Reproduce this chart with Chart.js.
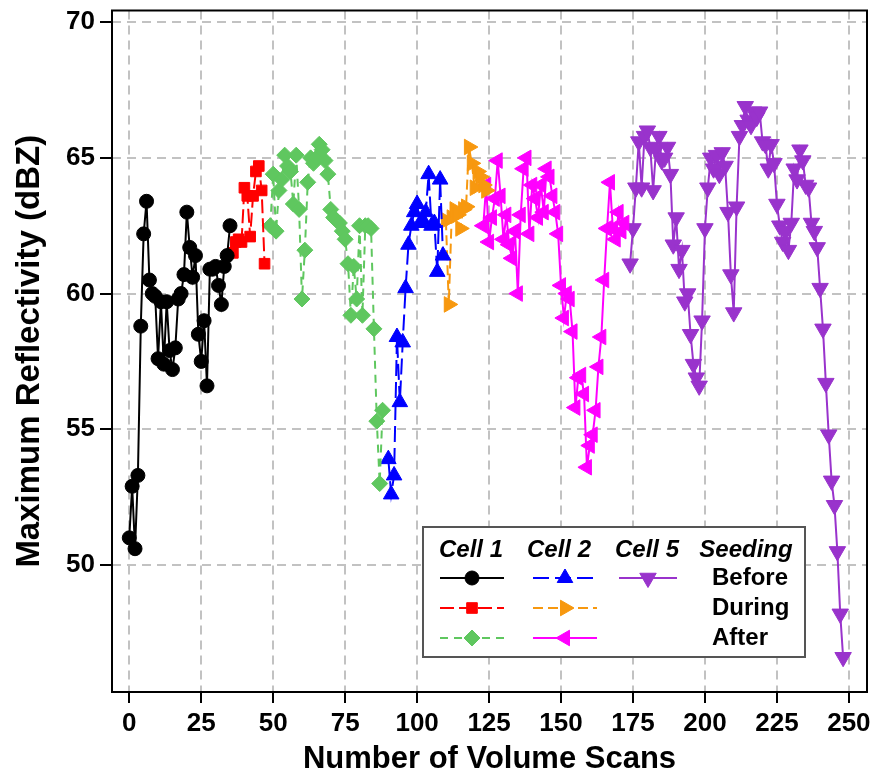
<!DOCTYPE html>
<html>
<head>
<meta charset="utf-8">
<script src="https://cdn.jsdelivr.net/npm/chart.js@4.4.0/dist/chart.umd.min.js"></script>
<style>
  html, body { margin: 0; padding: 0; background: #fff; }
</style>
</head>
<body>
<canvas id="reflChart" width="880" height="778"></canvas>
<script>
// scan number of the first point of each series, then max reflectivity (dBZ) per scan
const cell1BeforeStart = 0;
const cell1Before = [51.0, 52.9, 50.6, 53.3, 58.8, 62.2, 63.4, 60.5, 60.0, 59.9,
  57.6, 59.7, 57.4, 59.7, 57.9, 57.2, 58.0, 59.8, 60.0, 60.7,
  63.0, 61.7, 60.6, 61.4, 58.5, 57.5, 59.0, 56.6, 60.9, 60.9,
  61.0, 60.3, 59.6, 61.0, 61.4, 62.5];

const cell1DuringStart = 36;
const cell1During = [61.5, 61.9, 62.0, 61.9, 63.9, 63.6, 62.1, 63.6, 64.5, 64.7, 63.8, 61.1];

const cell1AfterStart = 49;
const cell1After = [62.5, 64.4, 62.3, 63.8, 64.2, 65.1, 64.7, 64.5, 63.3, 65.1,
  63.1, 59.8, 61.6, 64.1, 65.0, 64.8, 65.0, 65.5, 65.3, 64.9,
  64.4, 63.1, 62.8, 62.7, 62.6, 62.3, 62.0, 61.1, 59.2, 61.0,
  59.8, 62.5, 59.2, 62.5, 62.5, 62.4, 58.7, 55.3, 53.0, 55.7];

const cell2BeforeStart = 90;
const cell2Before = [53.9, 52.6, 53.3, 58.4, 56.0, 58.2, 60.2, 61.8, 62.5, 63.0,
  63.3, 62.6, 62.7, 63.0, 64.4, 62.5, 62.6, 60.8, 64.2, 61.4];

const cell2DuringStart = 110;
const cell2During = [62.7, 59.6, 62.8, 63.1, 62.9, 62.4, 63.1, 63.2, 65.4, 64.8,
  63.9, 64.5, 64.3, 64.0, 63.8];

const cell2AfterStart = 123;
const cell2After = [62.5, 64.0, 61.9, 62.8, 63.5, 64.9, 63.6, 62.0, 62.9, 61.8,
  61.3, 62.3, 60.0, 62.9, 64.6, 65.0, 62.2, 64.0, 63.5, 62.8,
  64.0, 63.0, 64.6, 64.3, 63.6, 63.0, 62.2, 60.3, 59.1, 60.0,
  59.8, 58.6, 55.8, 56.9, 57.0, 56.3, 53.6, 54.4, 54.8, 55.7,
  57.3, 58.4, 60.5, 62.4, 64.1, 62.4, 62.0, 63.0, 62.3, 62.6];

const cell5BeforeStart = 174;
const cell5Before = [61.1, 62.4, 63.9, 65.6, 63.9, 65.8, 66.0, 65.4, 63.8, 65.3,
  65.8, 64.9, 65.0, 65.4, 64.4, 61.8, 62.8, 60.9, 61.6, 59.7,
  60.0, 58.5, 57.4, 56.9, 56.6, 59.0, 62.4, 63.9, 65.0, 64.6,
  65.1, 64.4, 65.2, 64.7, 63.0, 60.7, 59.3, 63.2, 65.8, 66.2,
  66.9, 66.4, 66.2, 66.7, 66.5, 66.7, 65.6, 65.5, 64.6, 65.5,
  64.8, 63.3, 62.5, 61.9, 62.3, 61.6, 62.6, 64.6, 64.2, 65.3,
  64.9, 64.0, 63.9, 62.6, 62.3, 61.7, 60.2, 58.7, 56.7, 54.8,
  53.1, 52.2, 50.5, 48.2, 46.6];

const xTicks = [0, 25, 50, 75, 100, 125, 150, 175, 200, 225, 250];
const yTicks = [50, 55, 60, 65, 70];

const cellNames = ['Cell 1', 'Cell 2', 'Cell 5'];
const seedingTitle = 'Seeding';
const seedingPhases = ['Before', 'During', 'After'];

const FONT = '"Liberation Sans", Arial, Helvetica, sans-serif';

const toPoints = (start, vals) => vals.map((v, i) => ({ x: start + i, y: v }));

// col = cell column in the key, row = seeding phase
const series = [
  { start: cell1BeforeStart, vals: cell1Before, col: 0, row: 0, color: '#000000', style: 'circle', r: 7, rot: 0, dash: [] },
  { start: cell1DuringStart, vals: cell1During, col: 0, row: 1, color: '#ff0000', style: 'rect', r: 7.5, rot: 0, dash: [14, 5] },
  { start: cell1AfterStart, vals: cell1After, col: 0, row: 2, color: '#5fc75f', style: 'rectRot', r: 8, rot: 0, dash: [8, 6] },
  { start: cell2BeforeStart, vals: cell2Before, col: 1, row: 0, color: '#0000ff', style: 'triangle', r: 9, rot: 0, dash: [16, 6] },
  { start: cell2DuringStart, vals: cell2During, col: 1, row: 1, color: '#f7980f', style: 'triangle', r: 9, rot: 90, dash: [10, 5] },
  { start: cell2AfterStart, vals: cell2After, col: 1, row: 2, color: '#ff00ff', style: 'triangle', r: 9, rot: -90, dash: [] },
  { start: cell5BeforeStart, vals: cell5Before, col: 2, row: 0, color: '#9933cc', style: 'triangle', r: 9.5, rot: 180, dash: [] },
];

const datasets = series.map(s => ({
  data: toPoints(s.start, s.vals),
  borderColor: s.color,
  backgroundColor: s.color,
  borderWidth: 2,
  borderDash: s.dash,
  pointStyle: s.style,
  pointRadius: s.r,
  pointRotation: s.rot,
  pointBorderWidth: 1,
  pointBorderColor: s.color,
  pointBackgroundColor: s.color,
  tension: 0,
}));

// frame round the plot and the hand-laid key
const frameAndKey = {
  id: 'frameAndKey',
  afterDraw(chart) {
    const { ctx, chartArea: a } = chart;
    ctx.save();
    ctx.strokeStyle = '#000';
    ctx.lineWidth = 2;
    ctx.setLineDash([]);
    ctx.strokeRect(a.left, a.top, a.right - a.left, a.bottom - a.top);

    // key box
    const box = { l: 423, t: 527, r: 805, b: 657 };
    ctx.fillStyle = '#fff';
    ctx.fillRect(box.l, box.t, box.r - box.l, box.b - box.t);
    ctx.strokeStyle = '#555';
    ctx.strokeRect(box.l, box.t, box.r - box.l, box.b - box.t);

    const headY = 550;
    const rowY = [578, 608, 638];
    const colMid = [472, 565, 648];
    const colHalf = [32, 32, 29];
    const headX = [471, 559, 647, 746];

    ctx.fillStyle = '#000';
    ctx.textBaseline = 'middle';
    ctx.textAlign = 'center';
    ctx.font = 'italic bold 24px ' + FONT;
    cellNames.forEach((n, i) => ctx.fillText(n, headX[i], headY));
    ctx.fillText(seedingTitle, headX[3], headY);

    ctx.font = 'bold 24px ' + FONT;
    ctx.textAlign = 'left';
    seedingPhases.forEach((p, i) => ctx.fillText(p, 712, rowY[i]));

    series.forEach(s => {
      const cx = colMid[s.col];
      const cy = rowY[s.row];
      ctx.strokeStyle = s.color;
      ctx.lineWidth = 2;
      ctx.setLineDash(s.dash);
      ctx.beginPath();
      ctx.moveTo(cx - colHalf[s.col], cy);
      ctx.lineTo(cx + colHalf[s.col], cy);
      ctx.stroke();
      ctx.setLineDash([]);
      ctx.fillStyle = s.color;
      ctx.lineWidth = 1;
      Chart.helpers.drawPoint(ctx, {
        pointStyle: s.style, radius: s.r, rotation: s.rot, borderWidth: 1,
      }, cx, cy);
    });
    ctx.restore();
  },
};

const axisGrid = {
  color: '#c2c2c2',
  lineWidth: 2,
  tickLength: 12,
  tickColor: '#000',
  tickWidth: 2,
  tickBorderDash: [],
};

new Chart(document.getElementById('reflChart'), {
  type: 'line',
  data: { datasets },
  options: {
    responsive: false,
    animation: false,
    devicePixelRatio: 1,
    layout: { padding: { top: 7, right: 13, bottom: 0, left: 0 } },
    plugins: { legend: { display: false }, tooltip: { enabled: false } },
    scales: {
      x: {
        type: 'linear',
        min: -6,
        max: 256.3,
        afterBuildTicks: s => { s.ticks = xTicks.map(v => ({ value: v })); },
        afterFit: s => { s.height = 86; s.paddingLeft = 0; s.paddingRight = 0; },
        grid: { ...axisGrid, tickLength: 11 },
        border: { display: false, dash: [9, 6] },
        ticks: {
          color: '#000',
          padding: 5,
          maxRotation: 0,
          font: { family: FONT, size: 26, weight: 'bold' },
          callback: v => String(v),
        },
        title: {
          display: true,
          text: 'Number of Volume Scans',
          color: '#000',
          padding: { top: 0, bottom: 0 },
          font: { family: FONT, size: 31, weight: 'bold' },
        },
      },
      y: {
        min: 45.32,
        max: 70.43,
        afterBuildTicks: s => { s.ticks = yTicks.map(v => ({ value: v })); },
        afterFit: s => { s.width = 112; s.paddingTop = 0; s.paddingBottom = 0; },
        grid: axisGrid,
        border: { display: false, dash: [9, 6] },
        ticks: {
          color: '#000',
          padding: 5,
          font: { family: FONT, size: 26, weight: 'bold' },
          callback: v => String(v),
        },
        title: {
          display: true,
          text: 'Maximum Reflectivity (dBZ)',
          color: '#000',
          padding: { top: 10, bottom: 0 },
          font: { family: FONT, size: 33, weight: 'bold' },
        },
      },
    },
  },
  plugins: [frameAndKey],
});
</script>
</body>
</html>
